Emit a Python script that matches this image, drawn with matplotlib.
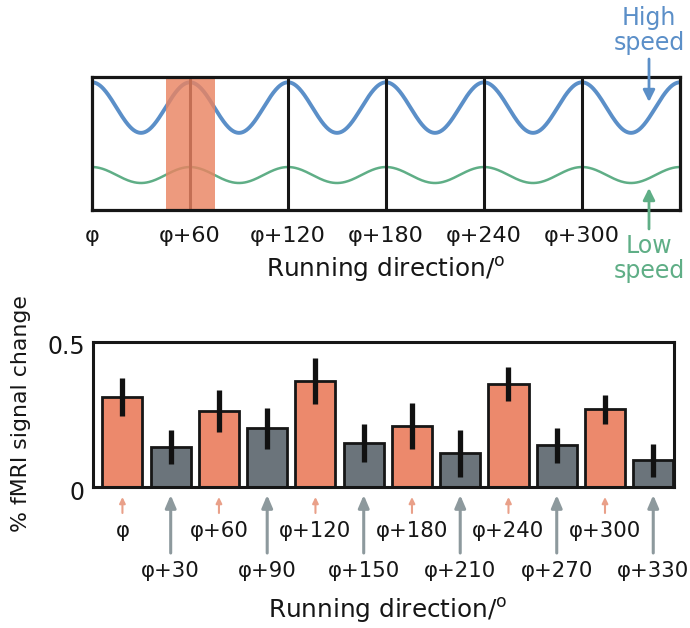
import numpy as np
import matplotlib
matplotlib.use("Agg")
import matplotlib.pyplot as plt
from matplotlib.patches import FancyArrowPatch
from matplotlib.transforms import blended_transform_factory, ScaledTranslation

plt.rcParams['font.family'] = ['DejaVu Sans']

# ---- top panel: schematic hexadirectional modulation ----
top_ticks = [0, 60, 120, 180, 240, 300]
top_labels = ["φ", "φ+60", "φ+120", "φ+180", "φ+240", "φ+300"]
high_center, high_amp = 0.77, 0.19
low_center, low_amp = 0.263, 0.06
band_range = (45, 75)

# ---- bottom panel: bar values ----
directions = ["φ", "φ+30", "φ+60", "φ+90", "φ+120", "φ+150",
              "φ+180", "φ+210", "φ+240", "φ+270", "φ+300", "φ+330"]
signal = [0.311, 0.137, 0.263, 0.202, 0.366, 0.151,
          0.210, 0.116, 0.355, 0.144, 0.268, 0.093]
errors = [0.066, 0.058, 0.072, 0.072, 0.080, 0.066,
          0.080, 0.080, 0.060, 0.060, 0.050, 0.057]
aligned = [True, False] * 6

BLUE = "#5B8FC8"
GREEN = "#5FAE86"
ORANGE = "#EC896C"
BAND = "#EA8462"
GRAY = "#6B747B"
ARROW_GRAY = "#8D999D"
ARROW_ORANGE = "#E9A089"
INK = "#161616"

W, H = 690, 628
fig = plt.figure(figsize=(W / 100, H / 100), dpi=100)


def frac(x0, y0, x1, y1):
    return [x0 / W, 1 - y1 / H, (x1 - x0) / W, (y1 - y0) / H]


def fy(py):
    return 1 - py / H


FS = 17          # annotation / tick-value text
FS_LAB = 15.3    # direction labels
FS_AX = 17.8     # axis titles

# top axes
ax1 = fig.add_axes(frac(92, 77, 680, 210))
theta = np.linspace(0, 360, 721)
ax1.plot(theta, high_center + high_amp * np.cos(np.deg2rad(6 * theta)),
         color=BLUE, lw=2.8, zorder=3)
ax1.plot(theta, low_center + low_amp * np.cos(np.deg2rad(6 * theta)),
         color=GREEN, lw=1.8, zorder=3)
for t in top_ticks[1:]:
    ax1.axvline(t, color=INK, lw=2.2, zorder=4)
ax1.axvspan(*band_range, color=BAND, alpha=0.82, lw=0, zorder=5)
ax1.set_xlim(0, 360)
ax1.set_ylim(0, 1)
ax1.set_xticks([])
ax1.set_yticks([])
for s in ax1.spines.values():
    s.set_linewidth(2.3)
    s.set_color(INK)
    s.set_zorder(6)

tr1 = blended_transform_factory(ax1.transData, fig.transFigure)
for t, lab in zip(top_ticks, top_labels):
    ax1.text(t, fy(242), lab, transform=tr1, ha="center", va="baseline",
             fontsize=FS_LAB + 0.7, color=INK)
fig.text(386 / W, fy(277), "Running direction/$\\mathregular{^o}$",
         fontsize=FS_AX, ha="center", va="baseline", color=INK)

# high / low speed annotations
fig.text(649 / W, fy(25), "High", color=BLUE, fontsize=FS, ha="center", va="baseline")
fig.text(649 / W, fy(50), "speed", color=BLUE, fontsize=FS, ha="center", va="baseline")
fig.text(649 / W, fy(253), "Low", color=GREEN, fontsize=FS, ha="center", va="baseline")
fig.text(649 / W, fy(278), "speed", color=GREEN, fontsize=FS, ha="center", va="baseline")
fig.add_artist(FancyArrowPatch(
    (649 / W, fy(59)), (649 / W, fy(102)), transform=fig.transFigure,
    arrowstyle="-|>,head_length=7,head_width=3.5", color=BLUE, lw=2.0,
    shrinkA=0, shrinkB=0))
fig.add_artist(FancyArrowPatch(
    (649 / W, fy(229)), (649 / W, fy(188)), transform=fig.transFigure,
    arrowstyle="-|>,head_length=7,head_width=3.5", color=GREEN, lw=2.0,
    shrinkA=0, shrinkB=0))

# bottom axes
ax2 = fig.add_axes(frac(93, 342, 674, 487))
x = np.arange(len(signal))
colors = [ORANGE if a else GRAY for a in aligned]
ax2.bar(x, signal, width=0.83, color=colors, edgecolor=INK, lw=2.0, zorder=2)
ax2.errorbar(x, signal, yerr=errors, fmt="none", ecolor="#111111",
             elinewidth=3.8, capsize=0, zorder=3)
ax2.set_xlim(-0.61, 11.43)
ax2.set_ylim(0, 0.5)
ax2.set_yticks([0, 0.5])
ax2.set_yticklabels(["0", "0.5"], fontsize=FS, color=INK)
ax2.tick_params(axis="y", length=0, pad=6)
shift_down = ScaledTranslation(0, -3 / 100, fig.dpi_scale_trans)
for lbl in ax2.get_yticklabels():
    lbl.set_transform(lbl.get_transform() + shift_down)
ax2.set_xticks([])
for s in ax2.spines.values():
    s.set_linewidth(2.2)
    s.set_color(INK)
    s.set_zorder(4)

tr2 = blended_transform_factory(ax2.transData, fig.transFigure)
for xi, lab, a in zip(x, directions, aligned):
    if a:
        ax2.annotate("", xy=(xi, fy(497)), xytext=(xi, fy(513)),
                     xycoords=tr2, textcoords=tr2,
                     arrowprops=dict(arrowstyle="-|>,head_length=0.35,head_width=0.17",
                                     color=ARROW_ORANGE, lw=1.5,
                                     shrinkA=0, shrinkB=0))
        ax2.text(xi, fy(537), lab, transform=tr2, ha="center", va="baseline",
                 fontsize=FS_LAB, color=INK)
    else:
        ax2.annotate("", xy=(xi, fy(495)), xytext=(xi, fy(553)),
                     xycoords=tr2, textcoords=tr2,
                     arrowprops=dict(arrowstyle="-|>,head_length=0.75,head_width=0.32",
                                     color=ARROW_GRAY, lw=2.2,
                                     shrinkA=0, shrinkB=0))
        ax2.text(xi, fy(577), lab, transform=tr2, ha="center", va="baseline",
                 fontsize=FS_LAB, color=INK)

fig.text(388 / W, fy(618), "Running direction/$\\mathregular{^o}$",
         fontsize=FS_AX, ha="center", va="baseline", color=INK)
fig.text(21 / W, fy(414), "% fMRI signal change", fontsize=15.8,
         rotation=90, ha="center", va="center", color=INK)

fig.savefig("out.png", dpi=100)
